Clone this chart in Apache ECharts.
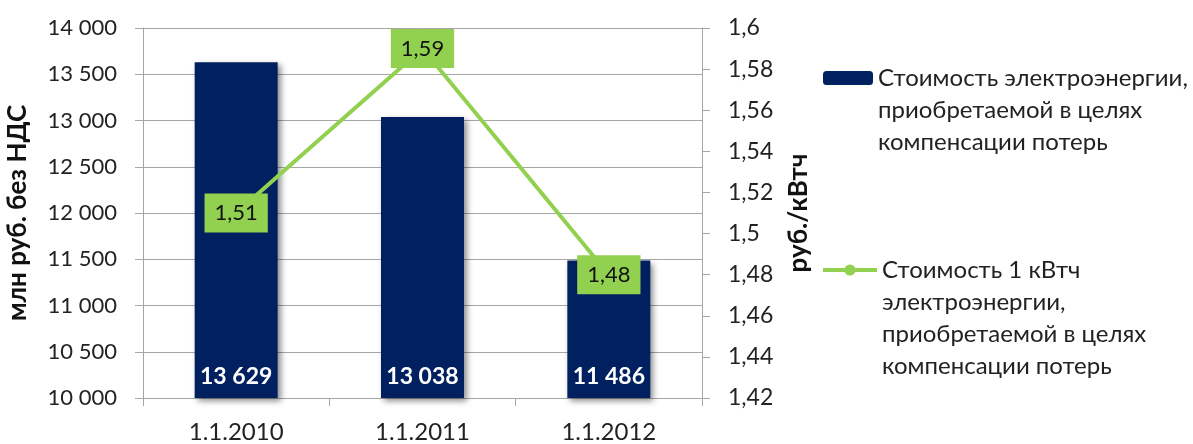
<!DOCTYPE html>
<html>
<head>
<meta charset="utf-8">
<script src="https://cdn.jsdelivr.net/npm/echarts@6/dist/echarts.min.js"></script>
<style>
  html, body { margin: 0; padding: 0; background: #fff; }
  #chart { width: 1193px; height: 444px; }
</style>
</head>
<body>
<div id="chart"></div>
<script>
// категории
const categories = ['1.1.2010', '1.1.2011', '1.1.2012']
// стоимость электроэнергии, млн руб. без НДС
const costValues = [13629, 13038, 11486]
// стоимость 1 кВтч, руб.
const priceValues = [1.51, 1.59, 1.48]

const barName = 'Стоимость электроэнергии,\nприобретаемой в целях\nкомпенсации потерь'
const lineName = 'Стоимость 1 кВтч\nэлектроэнергии,\nприобретаемой в целях\nкомпенсации потерь'

const font = 'Lato'
const gridColor = '#a6a6a6'
const legendLH = 32

const chart = echarts.init(document.getElementById('chart'))

const fmtThousands = v => String(v).replace(/\B(?=(\d{3})+(?!\d))/g, ' ')
const fmtComma = v => String(Math.round(v * 100) / 100).replace('.', ',')

// легенда: пустые строки сверху, чтобы первая строка текста была на уровне значка
const padLines = name => '\n'.repeat(name.split('\n').length - 1) + name
const legendText = { fontSize: 24, color: '#222', lineHeight: legendLH, fontFamily: font }

const option = {
  animation: false,
  textStyle: { fontFamily: font },
  grid: { left: 143, right: 491, top: 28, bottom: 46 },
  legend: [
    {
      data: [barName],
      left: 818,
      top: 78 - 5 * legendLH / 2 - 5,
      itemWidth: 50,
      itemHeight: 14,
      formatter: padLines,
      textStyle: legendText
    },
    {
      data: [lineName],
      left: 816,
      top: 270 - 7 * legendLH / 2 - 5,
      itemWidth: 54,
      itemHeight: 14,
      lineStyle: { width: 4 },
      formatter: padLines,
      textStyle: legendText
    }
  ],
  xAxis: {
    type: 'category',
    data: categories,
    axisLine: { lineStyle: { color: gridColor } },
    axisTick: { show: true, length: 8, lineStyle: { color: gridColor } },
    axisLabel: { fontSize: 24, color: '#222', margin: 22 }
  },
  yAxis: [
    {
      type: 'value',
      min: 10000,
      max: 14000,
      interval: 500,
      name: 'млн руб. без НДС',
      nameLocation: 'middle',
      nameGap: 112,
      nameRotate: 90,
      nameTextStyle: { fontSize: 26, fontWeight: 'bold', color: '#111' },
      axisLine: { show: true, lineStyle: { color: gridColor } },
      axisTick: { show: true, length: 8, lineStyle: { color: gridColor } },
      splitLine: { lineStyle: { color: gridColor, width: 1 } },
      axisLabel: { fontSize: 22, color: '#222', margin: 26, formatter: fmtThousands }
    },
    {
      type: 'value',
      min: 1.42,
      max: 1.6,
      interval: 0.02,
      position: 'right',
      name: 'руб./кВтч',
      nameLocation: 'middle',
      nameGap: 84,
      nameRotate: 90,
      nameTextStyle: { fontSize: 26, fontWeight: 'bold', color: '#111' },
      axisLine: { show: true, lineStyle: { color: gridColor } },
      axisTick: { show: true, length: 8, lineStyle: { color: gridColor } },
      splitLine: { show: false },
      axisLabel: { fontSize: 23, color: '#222', margin: 26, formatter: fmtComma }
    }
  ],
  series: [
    {
      name: barName,
      type: 'bar',
      data: costValues,
      barWidth: 83,
      itemStyle: {
        color: '#002060',
        shadowColor: 'rgba(0,0,0,0.45)',
        shadowBlur: 6,
        shadowOffsetX: 3,
        shadowOffsetY: 3
      },
      label: {
        show: true,
        position: 'insideBottom',
        distance: 10,
        color: '#fff',
        fontSize: 23,
        fontWeight: 'bold',
        formatter: p => fmtThousands(p.value)
      }
    },
    {
      name: lineName,
      type: 'line',
      yAxisIndex: 1,
      data: priceValues,
      symbol: 'circle',
      symbolSize: 12,
      lineStyle: { color: '#92d050', width: 4 },
      itemStyle: { color: '#92d050' },
      label: {
        show: true,
        position: 'inside',
        backgroundColor: '#92d050',
        color: '#111',
        fontSize: 22,
        padding: [9, 10, 8, 10],
        formatter: p => fmtComma(p.value)
      },
      z: 5
    }
  ]
}

chart.setOption(option)
</script>
</body>
</html>
